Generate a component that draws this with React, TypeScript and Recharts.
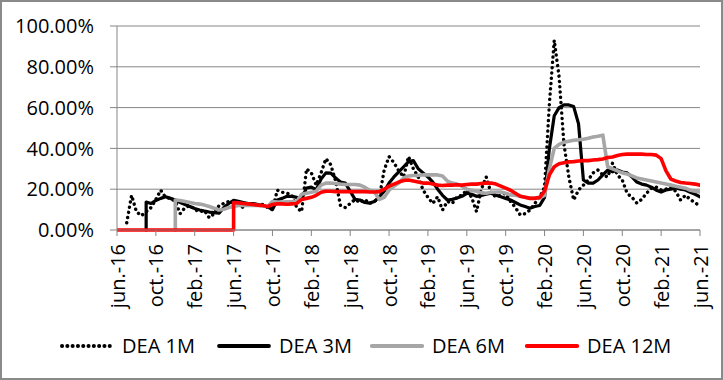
import React from 'react';
import { LineChart, Line, XAxis, YAxis, CartesianGrid, Legend } from 'recharts';

const FONT = '"Open Sans", "Noto Sans", sans-serif';

// x positions: months since jun.-16 (duplicates mark the vertical start steps)
const months = [
  0, 0.5, 1, 1.5, 2, 2.5, 3, 3,
  3.5, 4, 4.5, 5, 5.5, 6, 6,
  6.5, 7, 7.5, 8, 8.5, 9, 9.5, 10, 10.5, 11, 11.5, 12, 12,
  12.5, 13, 13.5, 14, 14.5, 15, 15.5, 16,
  16.5, 17, 17.5, 18, 18.5, 19, 19.5, 20,
  20.5, 21, 21.5, 22, 22.5, 23, 23.5, 24,
  24.5, 25, 25.5, 26, 26.5, 27, 27.5, 28,
  28.5, 29, 29.5, 30, 30.5, 31, 31.5, 32,
  32.5, 33, 33.5, 34, 34.5, 35, 35.5, 36,
  36.5, 37, 37.5, 38, 38.5, 39, 39.5, 40,
  40.5, 41, 41.5, 42, 42.5, 43, 43.5, 44,
  44.5, 45, 45.5, 46, 46.5, 47, 47.5, 48,
  48.5, 49, 49.5, 50, 50.5, 51, 51.5, 52,
  52.5, 53, 53.5, 54, 54.5, 55, 55.5, 56,
  56.5, 57, 57.5, 58, 58.5, 59, 59.5, 60,
];

const dea1m = [
  null, null, 3.5, 17, 9, 7, 9, 9,
  11, 15, 19.5, 16, 15.5, 14, 14,
  8, 11, 12, 10, 9, 9.5, 6, 8, 12, 13, 14, 13, 13,
  12.5, 11, 12.5, 12, 12.5, 12.5, 11, 10,
  19.5, 18.5, 18, 17, 11, 9, 30, 28,
  22, 28, 35, 32, 24, 12, 11, 13,
  15, 13.5, 15, 13, 14, 16, 29.4, 36,
  33, 29, 26, 36, 30, 26, 19.6, 16,
  13, 16.3, 9.8, 14, 13, 16.3, 17, 19.6,
  16, 9, 20, 26, 18, 16.3, 17, 18,
  14, 11, 7.4, 8, 9.8, 13, 16, 21,
  62, 93, 75, 42, 26, 14.7, 19.6, 22,
  24.5, 28, 29.4, 27, 26, 32.8, 27, 24.5,
  18, 16, 13.2, 15, 18, 20.5, 21, 19.6,
  20, 21, 19, 14.7, 17, 15, 13.2, 12,
];

const dea3m = [
  null, null, null, null, null, null, 0, 13.7,
  13, 14.5, 15.5, 16.3, 15.5, 14.7, 14.7,
  13.5, 12.5, 11.5, 10.5, 9.8, 9.3, 8.8, 8.5, 8.3, 11, 13, 14.5, 14.5,
  14, 13.5, 13, 13, 12.5, 12, 11.3, 10,
  14.7, 15.5, 16.5, 16.5, 16, 15, 20.6, 21,
  19.8, 25, 28, 27.9, 25.5, 23.5, 23, 19,
  15, 14.7, 13.5, 13.2, 14, 16.3, 19, 23,
  26, 28.5, 31, 33.5, 34, 30, 28, 26,
  23.5, 20, 17, 14.7, 15, 15.7, 16.5, 18,
  17.5, 16.5, 17, 17.5, 18, 17, 16.3, 15.5,
  14.7, 13.5, 12.3, 11.5, 10.7, 11.5, 12, 16,
  40, 56, 60, 61.3, 61.3, 60.5, 52, 24.5,
  23, 23, 24.5, 27, 29.4, 28.5, 29.4, 28.4,
  28, 26, 23.5, 22.5, 22, 21, 19.5, 18.6,
  19.6, 20, 20.6, 20, 19.6, 18.5, 17.5, 16.3,
];

const dea6m = [
  null, null, null, null, null, null, null, null,
  null, null, null, null, null, 0, 14.7,
  14.5, 14, 13.5, 13, 12.7, 12.2, 11.5, 10.7, 9.8, 10.2, 11, 11.5, 11.5,
  12, 12, 12, 12, 12, 11.8, 11.5, 14,
  13.7, 13.7, 13.8, 13.8, 14, 17.5, 18, 18.5,
  19, 22, 23, 23, 22.8, 22.5, 22.3, 22.3,
  22.3, 22, 21, 19.5, 18.5, 15, 16, 19.5,
  21.5, 23, 25.5, 26.5, 26.7, 26.8, 27, 27,
  27, 27, 26.5, 24, 23, 22.5, 21.5, 20,
  19.5, 19, 18.2, 18, 18.5, 18.6, 18.6, 18,
  17.2, 17, 16.5, 16, 15.7, 15.7, 15.7, 17,
  30, 40, 42, 43, 43.5, 44, 44.2, 44.5,
  45, 45.6, 46, 46.5, 31, 30, 29, 28,
  27.5, 26.5, 25.5, 25, 24.5, 24, 23.5, 23,
  22.5, 22, 21.5, 21, 20.5, 19.5, 19, 18.6,
];

const dea12m = [
  0, 0, 0, 0, 0, 0, 0, 0,
  0, 0, 0, 0, 0, 0, 0,
  0, 0, 0, 0, 0, 0, 0, 0, 0, 0, 0, 0, 13.5,
  13.3, 13, 12.8, 12.5, 12.2, 12, 11.5, 12.5,
  12.8, 12.8, 12.6, 12.8, 13, 15, 15.5, 16,
  17, 18.5, 19, 19, 18.8, 18.8, 18.8, 18.8,
  18.8, 18.8, 18.8, 18.6, 18.6, 18.8, 20, 21.5,
  22.5, 23.5, 24.3, 24.5, 24, 23.5, 23, 23,
  22.5, 22, 21.8, 22, 22, 22.2, 22, 22.3,
  22.5, 22.5, 22.8, 23, 23, 22.5, 21.5, 20.5,
  19.5, 18, 16.5, 16, 15.5, 15.5, 16, 19,
  27, 31, 32.5, 33, 33.4, 33.5, 33.8, 34,
  34, 34.3, 34.5, 34.8, 35.5, 35.8, 36.5, 37,
  37.2, 37.2, 37.2, 37.2, 37, 37, 36.7, 35,
  29, 25, 24, 23.3, 23, 22.8, 22.5, 22,
];

const xTicks = [0, 4, 8, 12, 16, 20, 24, 28, 32, 36, 40, 44, 48, 52, 56, 60];
const xLabels = [
  'jun.-16', 'oct.-16', 'feb.-17', 'jun.-17', 'oct.-17', 'feb.-18', 'jun.-18', 'oct.-18',
  'feb.-19', 'jun.-19', 'oct.-19', 'feb.-20', 'jun.-20', 'oct.-20', 'feb.-21', 'jun.-21',
];
const yTicks = [0, 20, 40, 60, 80, 100];
const seriesNames = ['DEA 1M', 'DEA 3M', 'DEA 6M', 'DEA 12M'];

const rows = months.map((m, i) => ({
  m,
  d1: dea1m[i],
  d3: dea3m[i],
  d6: dea6m[i],
  d12: dea12m[i],
}));

const seriesStyle = [
  { key: 'd1', color: '#000000', width: 3.4, dash: '0.1 5.2' },
  { key: 'd3', color: '#000000', width: 3.2, dash: undefined },
  { key: 'd6', color: '#A6A6A6', width: 3.6, dash: undefined },
  { key: 'd12', color: '#FF0000', width: 3.6, dash: undefined },
];

const GRID = '#868686';

const XTick = (props: any) => {
  const { x, y, payload } = props;
  const idx = xTicks.indexOf(payload.value);
  return (
    <g transform={`translate(${x},${y + 6})`}>
      <text
        transform="rotate(-90)"
        textAnchor="end"
        dominantBaseline="central"
        fontSize={20}
        fontFamily={FONT}
        fill="#000"
      >
        {xLabels[idx]}
      </text>
    </g>
  );
};

const legendLeft = [60, 217, 370, 525];

const LegendContent = () => (
  <div style={{ position: 'relative', width: 723, height: 50, fontFamily: FONT, fontSize: 20, color: '#000' }}>
    {seriesNames.map((name, i) => {
      const s = seriesStyle[i];
      return (
        <div
          key={name}
          style={{ position: 'absolute', left: legendLeft[i], top: 24, height: 24, display: 'flex', alignItems: 'center', whiteSpace: 'nowrap' }}
        >
          <svg width={54} height={10} style={{ display: 'block' }}>
            <line
              x1={2}
              y1={5}
              x2={52}
              y2={5}
              stroke={s.color}
              strokeWidth={s.width + 0.6}
              strokeDasharray={s.dash}
              strokeLinecap="round"
            />
          </svg>
          <span style={{ marginLeft: 8, lineHeight: '24px' }}>{name}</span>
        </div>
      );
    })}
  </div>
);

export default function App() {
  return (
    <div
      style={{
        position: 'absolute',
        left: 0,
        top: 0,
        width: 723,
        height: 380,
        background: '#fff',
      }}
    >
      <LineChart
        width={723}
        height={380}
        data={rows}
        margin={{ top: 26, right: 23, bottom: 20, left: 0 }}
      >
        <CartesianGrid horizontal vertical={false} stroke={GRID} strokeWidth={1} />
        <XAxis
          type="number"
          dataKey="m"
          domain={[0, 60]}
          ticks={xTicks}
          interval={0}
          height={80}
          tick={XTick}
          tickSize={6}
          stroke={GRID}
          axisLine={{ stroke: GRID }}
          tickLine={{ stroke: GRID }}
          allowDataOverflow
        />
        <YAxis
          type="number"
          domain={[0, 100]}
          ticks={yTicks}
          interval={0}
          width={117}
          tickSize={7}
          tickMargin={16}
          tickFormatter={(v: number) => `${v.toFixed(2)}%`}
          tick={{ fontSize: 20, fontFamily: FONT, fill: '#000' }}
          axisLine={{ stroke: GRID }}
          tickLine={{ stroke: GRID }}
        />
        <Legend verticalAlign="bottom" content={LegendContent} />
        {seriesStyle.map((s, i) => (
          <Line
            key={s.key}
            type="linear"
            dataKey={s.key}
            name={seriesNames[i]}
            stroke={s.color}
            strokeWidth={s.width}
            strokeDasharray={s.dash}
            strokeLinecap="round"
            strokeLinejoin="round"
            dot={false}
            activeDot={false}
            isAnimationActive={false}
          />
        ))}
      </LineChart>
      <div
        style={{
          position: 'absolute',
          left: 0,
          top: 0,
          width: 723,
          height: 380,
          border: '2px solid #8a8a8a',
          boxSizing: 'border-box',
          pointerEvents: 'none',
        }}
      />
    </div>
  );
}
